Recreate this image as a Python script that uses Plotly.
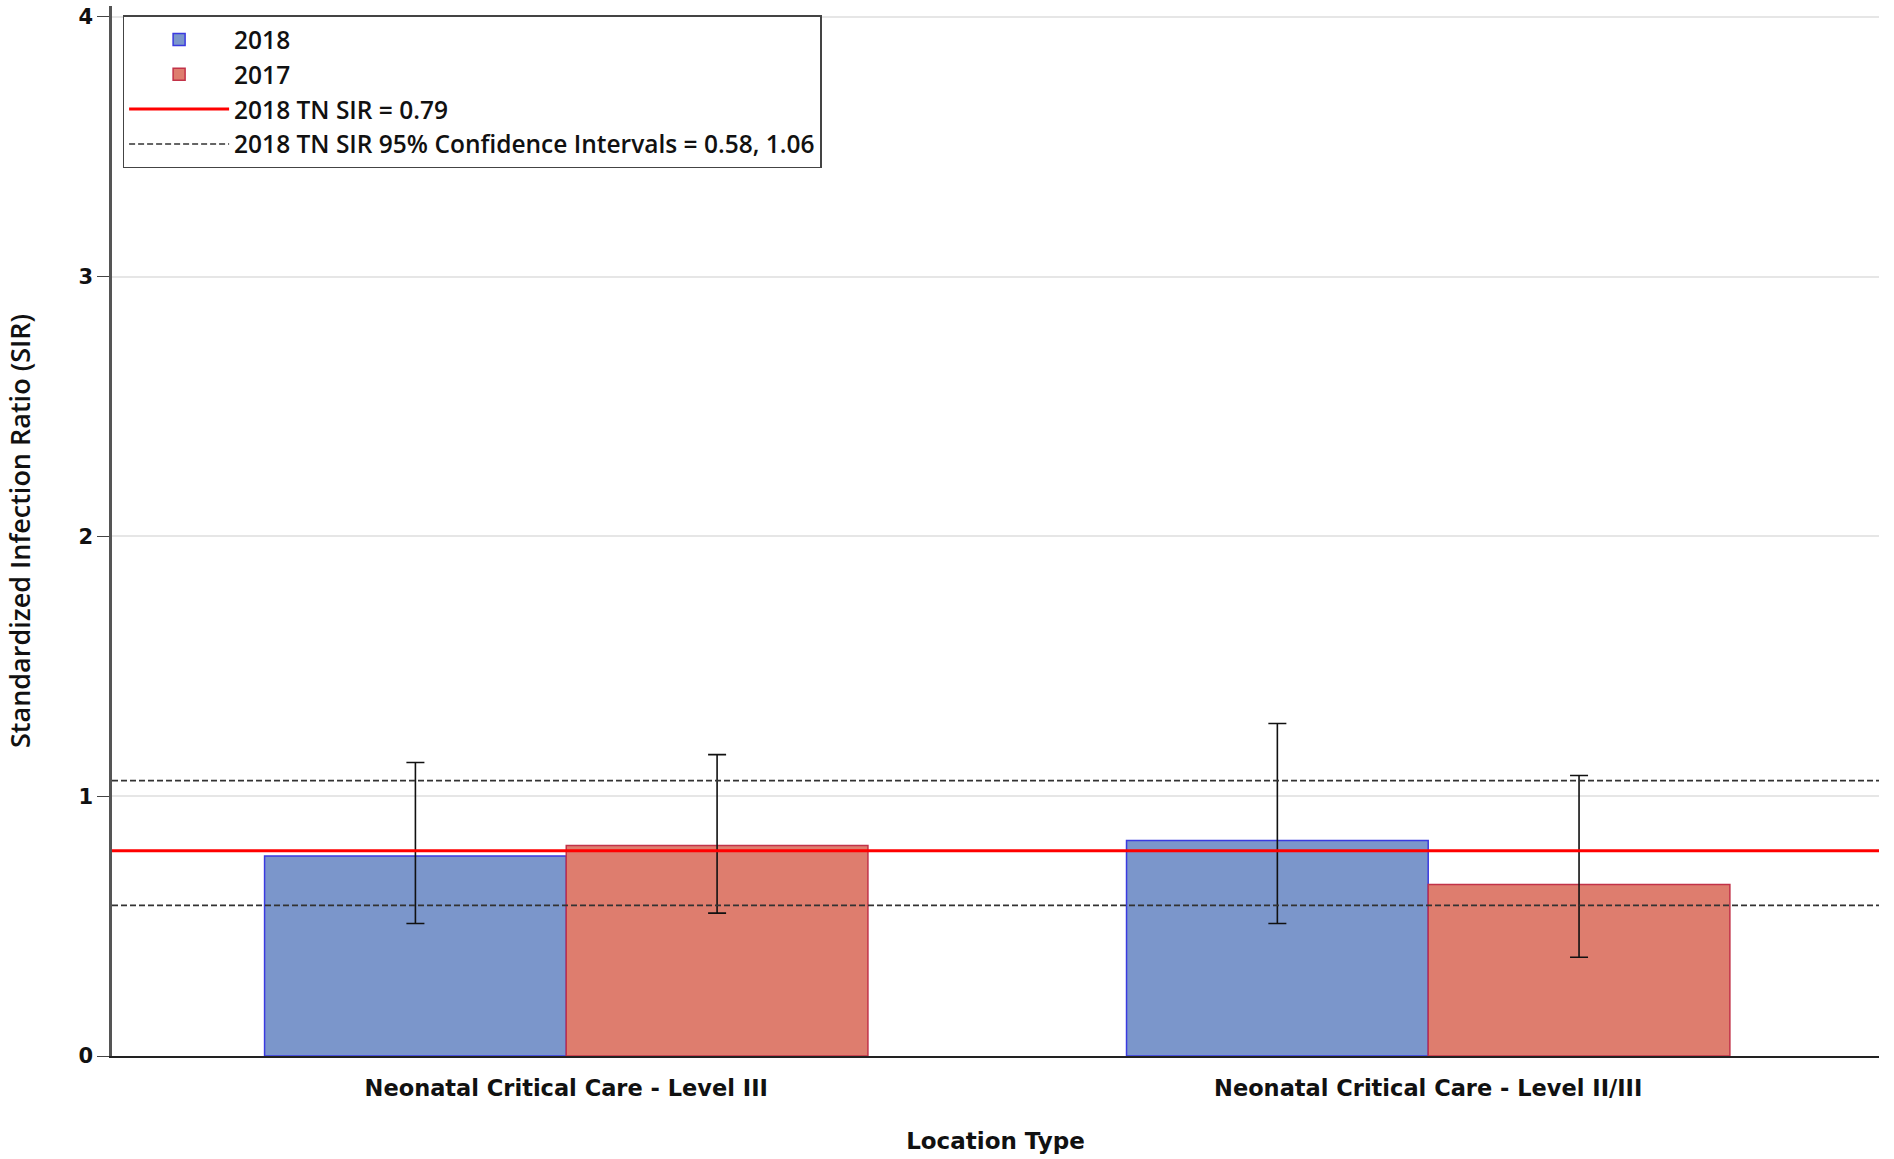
import plotly.graph_objects as go

categories = ["Neonatal Critical Care - Level III", "Neonatal Critical Care - Level II/III"]
sir_2018 = [0.77, 0.83]
ci_low_2018 = [0.51, 0.51]
ci_high_2018 = [1.13, 1.28]
sir_2017 = [0.81, 0.66]
ci_low_2017 = [0.55, 0.38]
ci_high_2017 = [1.16, 1.08]
tn_sir_2018 = 0.79
tn_ci_2018 = [0.58, 1.06]
y_ticks = [0, 1, 2, 3, 4]

def err(vals, lo, hi):
    return dict(type="data", symmetric=False,
                array=[h - v for v, h in zip(vals, hi)],
                arrayminus=[v - l for v, l in zip(vals, lo)],
                color="#111111", thickness=1.6, width=9)

fig = go.Figure()
fig.add_trace(go.Bar(name="2018", x=categories, y=sir_2018,
                     marker=dict(color="#7b96cb", line=dict(color="#3a3ae0", width=1.5)),
                     error_y=err(sir_2018, ci_low_2018, ci_high_2018)))
fig.add_trace(go.Bar(name="2017", x=categories, y=sir_2017,
                     marker=dict(color="#de7d6e", line=dict(color="#c23248", width=1.5)),
                     error_y=err(sir_2017, ci_low_2017, ci_high_2017)))
fig.add_trace(go.Scatter(name=f"2018 TN SIR = {tn_sir_2018}", x=[None], y=[None], mode="lines",
                         line=dict(color="#ff0000", width=3)))
fig.add_trace(go.Scatter(name=f"2018 TN SIR 95% Confidence Intervals = {tn_ci_2018[0]}, {tn_ci_2018[1]}",
                         x=[None], y=[None], mode="lines",
                         line=dict(color="#333333", width=1.6, dash="6px,3px")))

fig.add_hline(y=tn_sir_2018, line=dict(color="#ff0000", width=3), layer="above")
for v in tn_ci_2018:
    fig.add_hline(y=v, line=dict(color="#333333", width=1.6, dash="6px,3px"), layer="above")

fig.update_layout(
    width=1894, height=1159,
    margin=dict(l=112, r=15, t=6, b=103),
    paper_bgcolor="white", plot_bgcolor="white",
    barmode="group", bargap=0.30, bargroupgap=0,
    font=dict(family="Open Sans", color="#111111"),
    showlegend=True,
    legend=dict(x=0.006, y=0.991, xanchor="left", yanchor="top",
                bgcolor="white", bordercolor="#444444", borderwidth=1.5,
                font=dict(family="Open Sans", size=24.5, weight=600, color="#111111"),
                itemwidth=100, traceorder="normal"),
    xaxis=dict(showline=True, linecolor="#222222", linewidth=2,
               range=[-0.527, 1.523],
               tickfont=dict(family="DejaVu Sans", size=22.5, weight="bold", color="#111111"),
               ticks="outside", ticklen=11, tickcolor="rgba(0,0,0,0)",
               title=dict(text="Location Type", font=dict(family="DejaVu Sans", size=23, weight="bold"), standoff=33),
               showgrid=False),
    yaxis=dict(range=[0, 4.042], tickvals=y_ticks, ticktext=[str(t) for t in y_ticks],
               showline=True, linecolor="#555555", linewidth=2.5,
               ticks="outside", ticklen=12, tickcolor="#444444",
               tickfont=dict(family="DejaVu Sans", size=21, weight="bold", color="#111111"),
               showgrid=True, gridcolor="#e6e6e6", gridwidth=1.5, zeroline=False,
               title=dict(text="Standardized Infection Ratio (SIR)",
                          font=dict(family="Open Sans", size=27, weight=600), standoff=40)),
)

fig.write_html("out.html")
